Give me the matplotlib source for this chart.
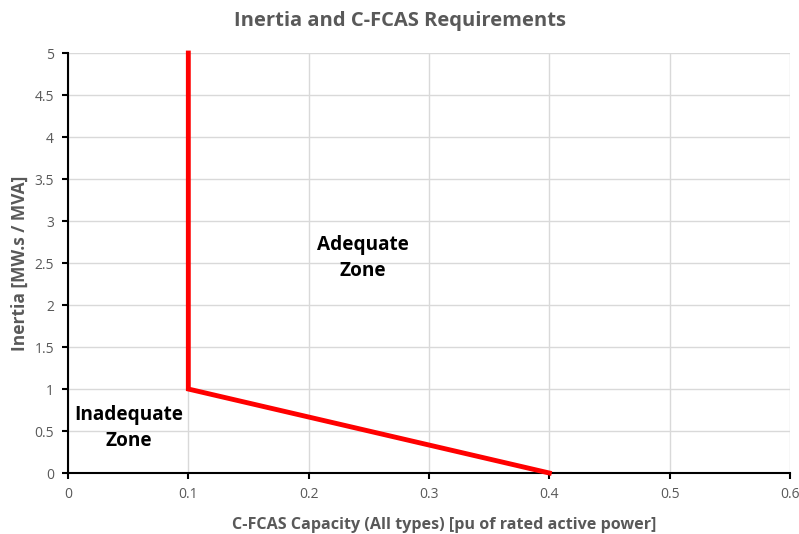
import matplotlib
matplotlib.use("Agg")
import matplotlib.pyplot as plt

# requirement curve
cap = [0.1, 0.1, 0.4]
inertia = [5, 1, 0]
xticks = [0, 0.1, 0.2, 0.3, 0.4, 0.5, 0.6]
yticks = [0, 0.5, 1, 1.5, 2, 2.5, 3, 3.5, 4, 4.5, 5]
xlabels = ["0", "0.1", "0.2", "0.3", "0.4", "0.5", "0.6"]
ylabels = ["0", "0.5", "1", "1.5", "2", "2.5", "3", "3.5", "4", "4.5", "5"]

plt.rcParams['font.family'] = ['Open Sans', 'DejaVu Sans']
grey = '#595959'

fig = plt.figure(figsize=(7.99, 5.34), dpi=100)
ax = fig.add_axes([0.0851, 0.1142, 0.9036, 0.7865])

ax.plot(cap, inertia, color='#ff0000', lw=3.5, solid_joinstyle='miter', clip_on=False, zorder=3)

ax.set_xlim(0, 0.6)
ax.set_ylim(0, 5)
ax.set_xticks(xticks)
ax.set_xticklabels(xlabels)
ax.set_yticks(yticks)
ax.set_yticklabels(ylabels)
ax.grid(True, color='#d9d9d9', lw=1)
ax.set_axisbelow(True)
for s in ['top', 'right']:
    ax.spines[s].set_visible(False)
for s in ['left', 'bottom']:
    ax.spines[s].set_color('black')
    ax.spines[s].set_linewidth(1.5)
ax.tick_params(direction='out', length=4, width=1.5, color='black', labelcolor=grey, labelsize=10, pad=6)

ax.set_xlabel("C-FCAS Capacity (All types) [pu of rated active power]", fontsize=11.6, fontweight='bold', color=grey, labelpad=7)
ax.xaxis.set_label_coords(0.521, -0.105)
ax.set_ylabel("Inertia [MW.s / MVA]", fontsize=12.5, fontweight='bold', color=grey, labelpad=4)
fig.suptitle("Inertia and C-FCAS Requirements", x=0.5, y=0.98, fontsize=14.5, fontweight='bold', color=grey)

ax.text(0.245, 2.56, "Adequate\nZone", ha='center', va='center', fontsize=13.7, fontweight='bold', linespacing=1.45)
ax.text(0.0507, 0.536, "Inadequate\nZone", ha='center', va='center', fontsize=13.7, fontweight='bold', linespacing=1.45)

fig.savefig("out.png", dpi=100)
